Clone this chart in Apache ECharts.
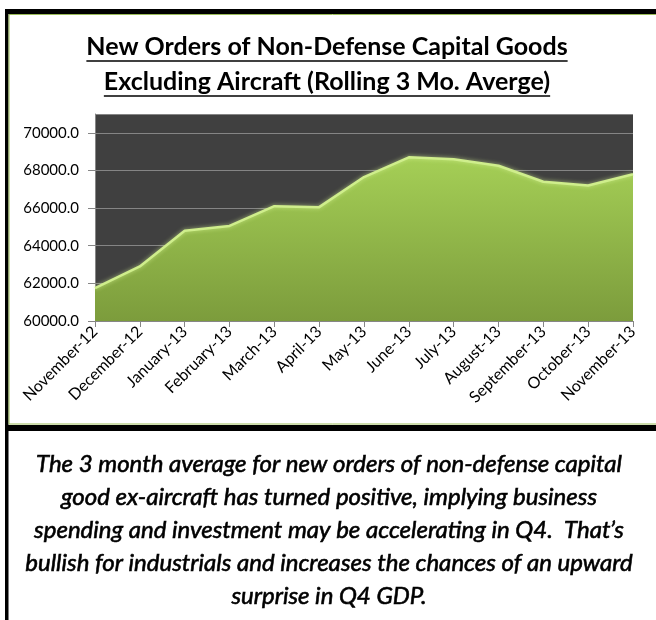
<!DOCTYPE html>
<html><head><meta charset="utf-8">
<script src="https://cdn.jsdelivr.net/npm/echarts@6/dist/echarts.min.js"></script>
<style>html,body{margin:0;padding:0;background:#fff}#c{width:656px;height:620px}</style>
</head><body><div id="c"></div>
<script>
const categories = ['November-12','December-12','January-13','February-13','March-13','April-13','May-13','June-13','July-13','August-13','September-13','October-13','November-13'];
const values = [61750, 62900, 64800, 65050, 66100, 66050, 67650, 68700, 68600, 68250, 67400, 67200, 67800];
const yMin = 60000, yMax = 71000, yStep = 2000;
const titleLines = ['New Orders of Non-Defense Capital Goods', 'Excluding Aircraft (Rolling 3 Mo. Averge)'];
const noteLines = [
  'The 3 month average for new orders of non-defense capital',
  'good ex-aircraft has turned positive, implying business',
  'spending and investment may be accelerating in Q4.  That\u2019s',
  'bullish for industrials and increases the chances of an upward',
  'surprise in Q4 GDP.'
];

const chart = echarts.init(document.getElementById('c'), null, {renderer: 'canvas'});
const titleFont = 'bold 25px Lato';
const ctx = document.createElement('canvas').getContext('2d');
ctx.font = titleFont;
const cx = 327;
const graphics = [];
// frame
graphics.push({type:'rect', shape:{x:5,y:9,width:651,height:5}, style:{fill:'#000'}, silent:true});
graphics.push({type:'rect', shape:{x:5,y:9,width:3.5,height:611}, style:{fill:'#000'}, silent:true});
graphics.push({type:'rect', shape:{x:5,y:425,width:651,height:6}, style:{fill:'#000'}, silent:true});
graphics.push({type:'line', shape:{x1:9,y1:14.5,x2:656,y2:14.5}, style:{stroke:'#9bbb59',lineWidth:1}, silent:true});
graphics.push({type:'line', shape:{x1:9,y1:14.5,x2:9,y2:424}, style:{stroke:'#9bbb59',lineWidth:1}, silent:true});
graphics.push({type:'line', shape:{x1:9,y1:424,x2:656,y2:424}, style:{stroke:'#9bbb59',lineWidth:1}, silent:true});
const titleY = [47, 82];
titleLines.forEach((t, i) => {
  const w = ctx.measureText(t).width;
  graphics.push({type:'text', x:cx, y:titleY[i], style:{text:t, font:titleFont, fill:'#000', align:'center', verticalAlign:'middle'}});
  graphics.push({type:'line', shape:{x1:cx - w/2, y1:titleY[i]+14, x2:cx + w/2, y2:titleY[i]+14}, style:{stroke:'#000', lineWidth:1.6}, silent:true});
});
noteLines.forEach((t, i) => {
  graphics.push({type:'text', x:cx+2, y:464 + i*33, style:{text:t, font:'italic 24px Lato', fill:'#000', stroke:'#000', lineWidth:0.6, align:'center', verticalAlign:'middle'}});
});

chart.setOption({
  animation: false,
  backgroundColor: '#fff',
  grid: {left: 95, right: 23, top: 114, bottom: 299, show: true, backgroundColor: '#404040', borderWidth: 0},
  xAxis: {
    type: 'category', data: categories, boundaryGap: false,
    axisLine: {lineStyle: {color: '#868686'}},
    axisTick: {show: true, alignWithLabel: true, length: 6, lineStyle: {color: '#868686'}},
    axisLabel: {rotate: 45, color: '#000', fontFamily: 'Lato', fontSize: 16, margin: 8, interval: 0}
  },
  yAxis: {
    type: 'value', min: yMin, max: yMax, interval: yStep,
    axisLine: {show: true, lineStyle: {color: '#868686'}},
    axisTick: {show: true, length: 7, lineStyle: {color: '#868686'}},
    axisLabel: {color: '#000', fontFamily: 'Lato', fontSize: 15, margin: 16, showMaxLabel: false,
      formatter: v => v.toFixed(1)},
    splitLine: {lineStyle: {color: '#858585', width: 1}}
  },
  series: [{
    type: 'line', data: values, symbol: 'none', smooth: false,
    lineStyle: {color: '#cfee8c', width: 2.5, shadowBlur: 4, shadowColor: 'rgba(215,245,150,0.7)'},
    areaStyle: {
      color: new echarts.graphic.LinearGradient(0, 0, 0, 1, [
        {offset: 0, color: '#a5cf56'},
        {offset: 1, color: '#7c9c3c'}
      ]),
      opacity: 1
    }
  }],
  graphic: graphics
});
</script></body></html>
